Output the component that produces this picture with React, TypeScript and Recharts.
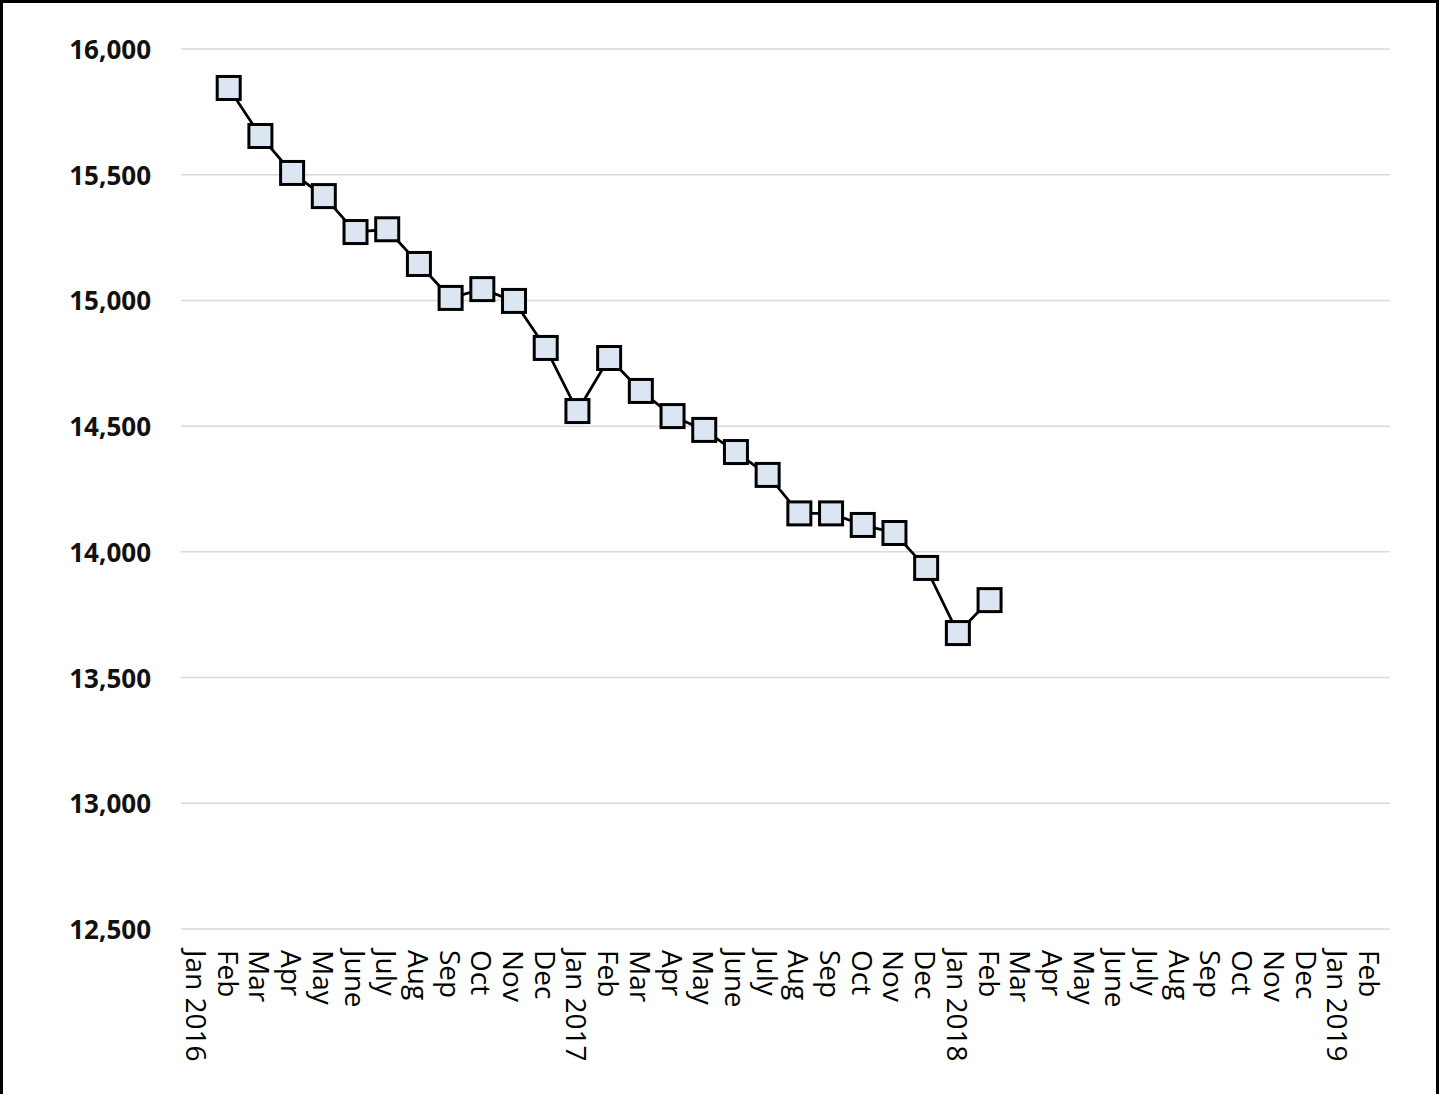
import React from "react";
import { LineChart, Line, XAxis, YAxis, CartesianGrid } from "recharts";

const months = [
  "Jan 2016", "Feb", "Mar", "Apr", "May", "June", "July", "Aug", "Sep", "Oct", "Nov", "Dec",
  "Jan 2017", "Feb", "Mar", "Apr", "May", "June", "July", "Aug", "Sep", "Oct", "Nov", "Dec",
  "Jan 2018", "Feb", "Mar", "Apr", "May", "June", "July", "Aug", "Sep", "Oct", "Nov", "Dec",
  "Jan 2019", "Feb",
];

const values: (number | null)[] = [
  null, 15845, 15654, 15507, 15415, 15272, 15283, 15145, 15010, 15045, 14998, 14811,
  14560, 14771, 14640, 14540, 14485, 14397, 14306, 14153, 14153, 14107, 14075, 13936,
  13677, 13808, null, null, null, null, null, null, null, null, null, null,
  null, null,
];

const yTicks = [12500, 13000, 13500, 14000, 14500, 15000, 15500, 16000];

const data = months.map((m, i) => ({ idx: i, label: m, value: values[i] }));

const FONT = "'Open Sans', 'DejaVu Sans', sans-serif";

const XTick = (props: any) => {
  const { x, y, payload } = props;
  return (
    <text
      transform={`translate(${x},${y}) rotate(90)`}
      textAnchor="start"
      dominantBaseline="central"
      fontFamily={FONT}
      fontSize={28}
      fill="#000"
    >
      {months[payload.value]}
    </text>
  );
};

const YTick = (props: any) => {
  const { x, y, payload } = props;
  return (
    <text
      x={x}
      y={y}
      textAnchor="end"
      dominantBaseline="central"
      fontFamily={FONT}
      fontSize={26}
      fontWeight={700}
      fill="#111"
    >
      {Number(payload.value).toLocaleString("en-US")}
    </text>
  );
};

const SquareDot = (props: any) => {
  const { cx, cy, value } = props;
  if (value == null || cx == null || cy == null) return null;
  const s = 23;
  return (
    <rect
      key={`d-${cx}`}
      x={cx - s / 2}
      y={cy - s / 2}
      width={s}
      height={s}
      fill="#DCE6F2"
      stroke="#000"
      strokeWidth={3}
    />
  );
};

export default function App() {
  return (
    <div
      style={{
        position: "absolute",
        left: 0,
        top: 0,
        width: 1439,
        height: 1094,
        border: "3px solid #000",
        borderBottom: "none",
        boxSizing: "border-box",
        background: "#fff",
      }}
    >
      <LineChart
        width={1433}
        height={1091}
        data={data}
        margin={{ top: 46, right: 46, left: 0, bottom: 15 }}
      >
        <CartesianGrid vertical={false} stroke="#d9d9d9" strokeWidth={1.5} />
        <XAxis
          dataKey="idx"
          type="category"
          interval={0}
          axisLine={false}
          tickLine={false}
          tickSize={0}
          tickMargin={21}
          height={150}
          padding={{ left: 16, right: 20 }}
          tick={<XTick />}
        />
        <YAxis
          domain={[12500, 16000]}
          ticks={yTicks}
          type="number"
          axisLine={false}
          tickLine={false}
          tickSize={0}
          tickMargin={30}
          width={178}
          tick={<YTick />}
          allowDataOverflow
        />
        <Line
          dataKey="value"
          stroke="#000"
          strokeWidth={2.75}
          dot={<SquareDot />}
          activeDot={false}
          isAnimationActive={false}
        />
      </LineChart>
    </div>
  );
}
